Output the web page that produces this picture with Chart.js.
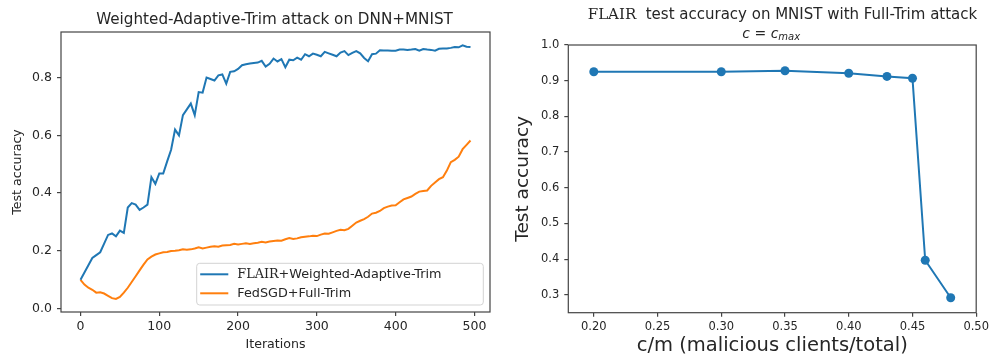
<!DOCTYPE html>
<html><head><meta charset="utf-8">
<script src="https://cdn.jsdelivr.net/npm/chart.js@4.4.0/dist/chart.umd.min.js"></script>
<style>
html,body{margin:0;padding:0;background:#fff;width:992px;height:358px;overflow:hidden}
canvas{position:absolute;top:0}
#c1{left:0}
#c2{left:496px}
</style></head><body>
<canvas id="c1" width="496" height="358"></canvas>
<canvas id="c2" width="496" height="358"></canvas>
<script>
// ---------- data: left chart ----------
const iterations = [0,5,10,15,20,25,30,35,40,45,50,55,60,65,70,75,80,85,90,95,
  100,105,110,115,120,125,130,135,140,145,150,155,160,165,170,175,180,185,190,195,
  200,205,210,215,220,225,230,235,240,245,250,255,260,265,270,275,280,285,290,295,
  300,305,310,315,320,325,330,335,340,345,350,355,360,365,370,375,380,385,390,395,
  400,405,410,415,420,425,430,435,440,445,450,455,460,465,470,475,480,485,490,495];
const flairWeightedAdaptiveTrim = [0.100,0.125,0.150,0.175,0.185,0.195,0.225,0.255,0.260,0.250,
  0.270,0.262,0.350,0.365,0.360,0.342,0.350,0.360,0.455,0.432,
  0.468,0.468,0.510,0.550,0.620,0.600,0.670,0.690,0.710,0.670,
  0.750,0.748,0.800,0.795,0.790,0.808,0.811,0.779,0.820,0.822,
  0.830,0.843,0.846,0.849,0.851,0.852,0.858,0.838,0.848,0.866,
  0.856,0.864,0.836,0.862,0.860,0.869,0.862,0.881,0.874,0.883,
  0.879,0.874,0.889,0.884,0.879,0.874,0.887,0.892,0.878,0.886,
  0.892,0.884,0.868,0.857,0.881,0.883,0.895,0.894,0.894,0.893,
  0.893,0.897,0.897,0.896,0.897,0.899,0.893,0.899,0.897,0.896,
  0.893,0.900,0.901,0.901,0.903,0.906,0.905,0.912,0.907,0.906];
const fedsgdFullTrim = [0.099,0.083,0.072,0.065,0.055,0.056,0.052,0.044,0.036,0.033,
  0.040,0.055,0.072,0.092,0.112,0.132,0.152,0.170,0.180,0.187,
  0.191,0.195,0.196,0.199,0.200,0.202,0.205,0.204,0.205,0.208,
  0.212,0.208,0.211,0.214,0.216,0.214,0.218,0.219,0.220,0.224,
  0.222,0.224,0.226,0.224,0.226,0.228,0.231,0.229,0.232,0.234,
  0.236,0.235,0.240,0.244,0.241,0.243,0.247,0.249,0.250,0.252,
  0.251,0.256,0.260,0.259,0.264,0.269,0.273,0.271,0.276,0.287,
  0.298,0.304,0.310,0.318,0.329,0.332,0.338,0.348,0.353,0.357,
  0.358,0.368,0.378,0.383,0.388,0.397,0.405,0.407,0.409,0.425,
  0.437,0.448,0.455,0.478,0.507,0.515,0.526,0.552,0.567,0.582];
const leftXTicks = [0,100,200,300,400,500];
const leftYTicks = [0.0,0.2,0.4,0.6,0.8];

// ---------- data: right chart ----------
const maliciousRatio = [0.20,0.30,0.35,0.40,0.43,0.45,0.46,0.48];
const flairAccuracy = [0.925,0.925,0.928,0.921,0.912,0.907,0.397,0.292];
const rightXTicks = [0.20,0.25,0.30,0.35,0.40,0.45,0.50];
const rightYTicks = [0.3,0.4,0.5,0.6,0.7,0.8,0.9,1.0];

const TXT = '#262626';
const SANS = "'DejaVu Sans', sans-serif";
const SERIF = "'DejaVu Serif', serif";
const BLUE = '#1f77b4', ORANGE = '#ff7f0e';

const framePlugin = {
  id: 'frame',
  afterDatasetsDraw(chart) {
    const {ctx, chartArea: a} = chart;
    ctx.save();
    ctx.strokeStyle = '#444';
    ctx.lineWidth = 1.2;
    ctx.strokeRect(a.left, a.top, a.right - a.left, a.bottom - a.top);
    ctx.restore();
  }
};

function drawMixed(ctx, parts, x, y) {
  // parts: [{text, font}] drawn left to right starting at x
  let cx = x;
  for (const p of parts) {
    ctx.font = p.font;
    ctx.fillText(p.text, cx, y + (p.dy || 0));
    cx += ctx.measureText(p.text).width;
  }
}
function mixedWidth(ctx, parts) {
  let w = 0;
  for (const p of parts) { ctx.font = p.font; w += ctx.measureText(p.text).width; }
  return w;
}
function labelParts(label, size) {
  if (label.startsWith('FLAIR')) {
    return [{text: 'FLAIR', font: size + 'px ' + SERIF}, {text: label.slice(5), font: size + 'px ' + SANS}];
  }
  return [{text: label, font: size + 'px ' + SANS}];
}

const leftDecor = {
  id: 'leftDecor',
  afterDraw(chart) {
    const {ctx, chartArea: a} = chart;
    ctx.save();
    ctx.fillStyle = TXT;
    ctx.textBaseline = 'middle';
    ctx.textAlign = 'center';
    ctx.font = '15.2px ' + SANS;
    ctx.fillText('Weighted-Adaptive-Trim attack on DNN+MNIST', (a.left + a.right) / 2 - 1, 20);
    // legend
    const bx = a.right - 293.3, by = a.bottom - 48.7, bw = 286.6, bh = 41.7;
    ctx.beginPath();
    ctx.roundRect(bx, by, bw, bh, 3);
    ctx.fillStyle = 'rgba(255,255,255,0.85)';
    ctx.fill();
    ctx.strokeStyle = '#d3d3d3';
    ctx.lineWidth = 1;
    ctx.stroke();
    ctx.textAlign = 'left';
    const rows = [a.bottom - 37.7, a.bottom - 18.7];
    chart.data.datasets.forEach((ds, i) => {
      const ry = rows[i];
      ctx.strokeStyle = ds.borderColor;
      ctx.lineWidth = 2;
      ctx.beginPath();
      ctx.moveTo(bx + 3.5, ry);
      ctx.lineTo(bx + 31.6, ry);
      ctx.stroke();
      ctx.fillStyle = TXT;
      drawMixed(ctx, labelParts(ds.label, 12.8), bx + 40.6, ry);
    });
    ctx.restore();
  }
};

const rightDecor = {
  id: 'rightDecor',
  afterDraw(chart) {
    const {ctx, chartArea: a} = chart;
    ctx.save();
    ctx.fillStyle = TXT;
    ctx.textBaseline = 'middle';
    ctx.textAlign = 'left';
    const tparts = [{text: 'FLAIR', font: '15px ' + SERIF},
                    {text: '  test accuracy on MNIST with Full-Trim attack', font: '15px ' + SANS}];
    const tw = mixedWidth(ctx, tparts);
    drawMixed(ctx, tparts, 286.5 - tw / 2, 15);
    const sparts = [{text: 'c', font: 'italic 14px ' + SANS},
                    {text: ' = ', font: '14px ' + SANS},
                    {text: 'c', font: 'italic 14px ' + SANS},
                    {text: 'max', font: 'italic 10px ' + SANS, dy: 3}];
    const sw = mixedWidth(ctx, sparts);
    drawMixed(ctx, sparts, (a.left + a.right) / 2 - 1 - sw / 2, 34);
    ctx.restore();
  }
};

function scaleCommon(ticksArr, fmt, size, pad) {
  return {
    type: 'linear',
    afterBuildTicks: s => { s.ticks = ticksArr.map(v => ({value: v})); },
    grid: {display: true, drawOnChartArea: false, drawTicks: true, tickLength: 4, color: '#444', lineWidth: 1.2},
    border: {display: false},
    ticks: {color: TXT, font: {family: SANS, size: size}, padding: pad, maxRotation: 0, autoSkip: false,
            callback: v => fmt(v)}
  };
}

// ---------- left chart ----------
new Chart(document.getElementById('c1'), {
  type: 'line',
  data: {
    datasets: [
      {label: 'FLAIR+Weighted-Adaptive-Trim', data: iterations.map((it, i) => ({x: it, y: flairWeightedAdaptiveTrim[i]})),
       borderColor: BLUE, backgroundColor: BLUE, borderWidth: 2, pointRadius: 0, tension: 0, fill: false},
      {label: 'FedSGD+Full-Trim', data: iterations.map((it, i) => ({x: it, y: fedsgdFullTrim[i]})),
       borderColor: ORANGE, backgroundColor: ORANGE, borderWidth: 2, pointRadius: 0, tension: 0, fill: false}
    ]
  },
  options: {
    responsive: false, animation: false, devicePixelRatio: 1,
    layout: {padding: {left: 0, right: 6, top: 32, bottom: 0}},
    plugins: {legend: {display: false}, tooltip: {enabled: false}, title: {display: false}},
    scales: {
      x: Object.assign(scaleCommon(leftXTicks, v => String(v), 12.5, 3), {
        min: -24.75, max: 519.75,
        afterFit: s => { s.height = 46; },
        title: {display: true, text: 'Iterations', color: TXT, font: {family: SANS, size: 12.6}, padding: {top: 0, bottom: 5.4}}
      }),
      y: Object.assign(scaleCommon(leftYTicks, v => v.toFixed(1), 12.5, 5), {
        min: -0.012, max: 0.958,
        afterFit: s => { s.width = 61; },
        title: {display: true, text: 'Test accuracy', color: TXT, font: {family: SANS, size: 12.6}, padding: {top: 10.4, bottom: 0}}
      })
    }
  },
  plugins: [framePlugin, leftDecor]
});

// ---------- right chart ----------
new Chart(document.getElementById('c2'), {
  type: 'line',
  data: {
    datasets: [
      {label: 'FLAIR', data: maliciousRatio.map((r, i) => ({x: r, y: flairAccuracy[i]})),
       borderColor: BLUE, backgroundColor: BLUE, borderWidth: 2, pointRadius: 4.5, pointBorderWidth: 0,
       pointBackgroundColor: BLUE, tension: 0, fill: false}
    ]
  },
  options: {
    responsive: false, animation: false, devicePixelRatio: 1,
    layout: {padding: {left: 0, right: 12, top: 45, bottom: 0}},
    plugins: {legend: {display: false}, tooltip: {enabled: false}, title: {display: false}},
    scales: {
      x: Object.assign(scaleCommon(rightXTicks, v => v.toFixed(2), 11.5, 3), {
        min: 0.18, max: 0.50,
        afterFit: s => { s.height = 45.3; },
        title: {display: true, text: 'c/m (malicious clients/total)', color: TXT, font: {family: SANS, size: 19.5}, padding: {top: 0, bottom: 0}}
      }),
      y: Object.assign(scaleCommon(rightYTicks, v => v.toFixed(1), 11.5, 5), {
        min: 0.25, max: 1.0,
        afterFit: s => { s.width = 72.3; },
        title: {display: true, text: 'Test accuracy', color: TXT, font: {family: SANS, size: 18.5}, padding: {top: 15.9, bottom: 0}}
      })
    }
  },
  plugins: [framePlugin, rightDecor]
});
</script>
</body></html>
